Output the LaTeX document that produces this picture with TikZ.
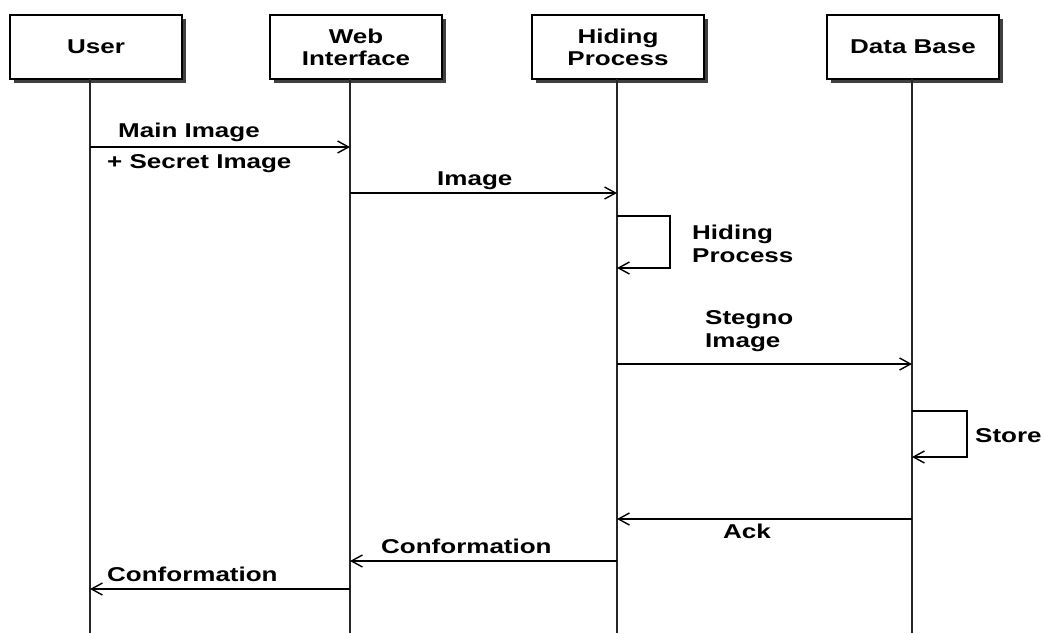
\documentclass[tikz,border=0pt]{standalone}
\usepackage{fontspec}
\newfontfamily\lab{Liberation Sans}[FakeStretch=1.3]
\usetikzlibrary{arrows.meta}
\tikzset{
  x=1pt, y=-1pt,
  txt/.style={font=\lab\bfseries\fontsize{20}{23}\selectfont, inner sep=0pt, align=left},
  actor/.style={draw=black, line width=1.4pt, fill=white, minimum width=172pt, minimum height=64pt,
    inner sep=0pt, align=center, font=\lab\bfseries\fontsize{20}{22}\selectfont,
    preaction={fill=black!75, transform canvas={shift={(3.5pt,-3.5pt)}}}},
  life/.style={line width=1.8pt, draw=black!85},
  msg/.style={line width=1.4pt, -{Straight Barb[length=11pt,width=12pt,line width=1.4pt]}},
}
\begin{document}
\begin{tikzpicture}
\useasboundingbox (0,0) rectangle (1045,633);
\fill[white] (0,0) rectangle (1045,633);
% actors
\node[actor] (user) at (96,47) {User};
\node[actor] (web) at (356,47) {Web\\Interface};
\node[actor] (hid) at (618,47) {Hiding\\Process};
\node[actor] (db) at (913,47) {Data Base};
% lifeline ends
\coordinate (uT) at (90,79);  \coordinate (uB) at (90,633);
\coordinate (wT) at (350,79); \coordinate (wB) at (350,633);
\coordinate (hT) at (617,79); \coordinate (hB) at (617,633);
\coordinate (dT) at (912,79); \coordinate (dB) at (912,633);
\draw[life] (uT) -- (uB);
\draw[life] (wT) -- (wB);
\draw[life] (hT) -- (hB);
\draw[life] (dT) -- (dB);
% message points
\coordinate (m1a) at (90,147);  \coordinate (m1b) at (350,147);
\coordinate (m2a) at (350,193); \coordinate (m2b) at (617,193);
\coordinate (l1a) at (617,216); \coordinate (l1b) at (670,216);
\coordinate (l1c) at (670,268); \coordinate (l1d) at (617,268);
\coordinate (m3a) at (617,364); \coordinate (m3b) at (912,364);
\coordinate (l2a) at (912,411); \coordinate (l2b) at (967,411);
\coordinate (l2c) at (967,457); \coordinate (l2d) at (912,457);
\coordinate (m4a) at (912,519); \coordinate (m4b) at (617,519);
\coordinate (m5a) at (617,561); \coordinate (m5b) at (350,561);
\coordinate (m6a) at (350,589); \coordinate (m6b) at (90,589);
% messages
\draw[msg] (m1a) -- (m1b);
\draw[msg] (m2a) -- (m2b);
\draw[msg] (l1a) -- (l1b) -- (l1c) -- (l1d);
\draw[msg] (m3a) -- (m3b);
\draw[msg] (l2a) -- (l2b) -- (l2c) -- (l2d);
\draw[msg] (m4a) -- (m4b);
\draw[msg] (m5a) -- (m5b);
\draw[msg] (m6a) -- (m6b);
% labels
\node[txt, anchor=base west] (t1) at (118,137) {Main Image};
\node[txt, anchor=base west] (t1b) at (107,168) {+ Secret Image};
\node[txt, anchor=base west] (t2) at (437,185) {Image};
\node[txt, anchor=base west] (t3) at (692,262) {Hiding\\Process};
\node[txt, anchor=base west] (t4) at (705,347) {Stegno\\Image};
\node[txt, anchor=base west] (t5) at (975,442) {Store};
\node[txt, anchor=base west] (t6) at (723,538) {Ack};
\node[txt, anchor=base west] (t7) at (381,553) {Conformation};
\node[txt, anchor=base west] (t8) at (107,581) {Conformation};
\end{tikzpicture}
\end{document}
